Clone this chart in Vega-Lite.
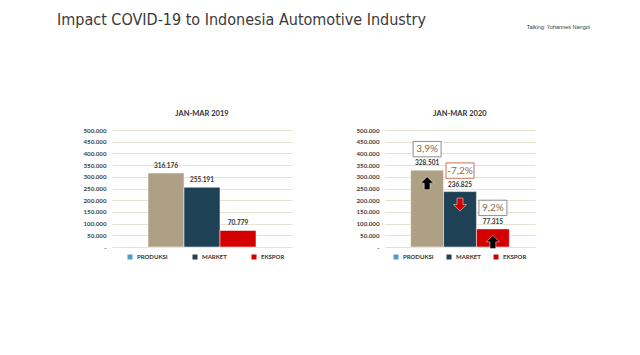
{
  "$schema": "https://vega.github.io/schema/vega-lite/v6.json",
  "background": "white",
  "padding": {"left": 57, "top": 12, "right": 5, "bottom": 5},
  "title": {
    "text": "Impact COVID-19 to Indonesia Automotive Industry",
    "anchor": "start",
    "frame": "group",
    "font": "DejaVu Sans Condensed, Liberation Sans",
    "fontSize": 16,
    "fontWeight": "normal",
    "color": "#3a3a3a",
    "dx": -55,
    "offset": -3
  },
  "data": {
    "values": [
      {"period": "JAN-MAR 2019", "cat": "PRODUKSI", "value": 316176},
      {"period": "JAN-MAR 2019", "cat": "MARKET", "value": 255191},
      {"period": "JAN-MAR 2019", "cat": "EKSPOR", "value": 70779},
      {"period": "JAN-MAR 2020", "cat": "PRODUKSI", "value": 328501, "pct": 3.9},
      {"period": "JAN-MAR 2020", "cat": "MARKET", "value": 236825, "pct": -7.2},
      {"period": "JAN-MAR 2020", "cat": "EKSPOR", "value": 77315, "pct": 9.2}
    ]
  },
  "vconcat": [
    {
      "title": {
        "text": "Talking: Yohannes Nangoi",
        "anchor": "end",
        "frame": "bounds",
        "font": "Liberation Sans",
        "fontSize": 5.5,
        "fontWeight": "normal",
        "color": "#2f3a38",
        "dx": 55,
        "dy": -35,
        "offset": 44
      },
      "hconcat": [
        {
          "width": 180,
          "height": 117,
          "title": {"text": "JAN-MAR 2019"},
          "transform": [
            {"filter": "datum.period == 'JAN-MAR 2019'"},
            {"calculate": "replace(format(datum.value, ','), ',', '.')", "as": "label"}
          ],
          "encoding": {
            "x": {"field": "cat", "type": "nominal", "sort": ["PRODUKSI", "MARKET", "EKSPOR"], "axis": null,
                  "scale": {"paddingInner": 0, "paddingOuter": 1.3125}},
            "y": {"field": "value", "type": "quantitative",
                  "scale": {"domain": [0, 500000], "nice": false},
                  "axis": {"values": [0, 50000, 100000, 150000, 200000, 250000, 300000, 350000, 400000, 450000, 500000],
                           "labelExpr": "datum.value == 0 ? '-' : replace(format(datum.value, ','), ',', '.')",
                           "title": null}}
          },
          "layer": [
            {"mark": {"type": "point", "shape": "square", "filled": true, "opacity": 0},
             "encoding": {"color": {"field": "cat", "type": "nominal",
               "scale": {"domain": ["PRODUKSI", "MARKET", "EKSPOR"], "range": ["#4e9fc9", "#1e4155", "#d40000"]},
               "legend": {"title": null, "orient": "none", "direction": "horizontal", "legendX": 15, "legendY": 124, "columnPadding": 24,
                          "encode": {"symbols": {"update": {"opacity": {"value": 1}}}}}}}},
            {"mark": {"type": "bar", "stroke": "#ffffff", "strokeWidth": 0.5},
             "encoding": {"fill": {"field": "cat", "type": "nominal",
               "scale": {"domain": ["PRODUKSI", "MARKET", "EKSPOR"], "range": ["#ada084", "#1e4155", "#d40000"]},
               "legend": null}}},
            {"mark": {"type": "text", "yOffset": -7, "baseline": "middle", "font": "Lato", "fontWeight": "bold", "fontSize": 6.5, "color": "#333333"},
             "encoding": {"text": {"field": "label"}}}
          ]
        },
        {
          "width": 150,
          "height": 117,
          "title": {"text": "JAN-MAR 2020"},
          "transform": [
            {"filter": "datum.period == 'JAN-MAR 2020'"},
            {"calculate": "replace(format(datum.value, ','), ',', '.')", "as": "label"},
            {"calculate": "(datum.pct < 0 ? '-' : '') + replace(format(abs(datum.pct), '.1f'), '.', ',') + '%'", "as": "pctlabel"}
          ],
          "encoding": {
            "x": {"field": "cat", "type": "nominal", "sort": ["PRODUKSI", "MARKET", "EKSPOR"], "axis": null,
                  "scale": {"paddingInner": 0, "paddingOuter": 0.78}},
            "y": {"field": "value", "type": "quantitative",
                  "scale": {"domain": [0, 500000], "nice": false},
                  "axis": {"values": [0, 50000, 100000, 150000, 200000, 250000, 300000, 350000, 400000, 450000, 500000],
                           "labelExpr": "datum.value == 0 ? '-' : replace(format(datum.value, ','), ',', '.')",
                           "title": null}}
          },
          "layer": [
            {"mark": {"type": "point", "shape": "square", "filled": true, "opacity": 0},
             "encoding": {"color": {"field": "cat", "type": "nominal",
               "scale": {"domain": ["PRODUKSI", "MARKET", "EKSPOR"], "range": ["#4e9fc9", "#1e4155", "#d40000"]},
               "legend": {"title": null, "orient": "none", "direction": "horizontal", "legendX": 8, "legendY": 124, "columnPadding": 12,
                          "encode": {"symbols": {"update": {"opacity": {"value": 1}}}}}}}},
            {"mark": {"type": "bar", "stroke": "#ffffff", "strokeWidth": 0.5},
             "encoding": {"fill": {"field": "cat", "type": "nominal",
               "scale": {"domain": ["PRODUKSI", "MARKET", "EKSPOR"], "range": ["#ada084", "#1e4155", "#d40000"]},
               "legend": null}}},
            {"mark": {"type": "text", "yOffset": -7, "baseline": "middle", "font": "Lato", "fontWeight": "bold", "fontSize": 6.5, "color": "#333333"},
             "encoding": {"text": {"field": "label"}}},
            {"mark": {"type": "point", "filled": true, "size": 169, "yOffset": 13, "stroke": "#ffffff", "strokeWidth": 0.5, "opacity": 1},
             "encoding": {
               "shape": {"condition": {"test": "datum.pct < 0", "value": "M0,1L1,0L0.45,0L0.45,-1L-0.45,-1L-0.45,0L-1,0Z"},
                         "value": "M0,-1L1,0L0.45,0L0.45,1L-0.45,1L-0.45,0L-1,0Z"},
               "fill": {"condition": {"test": "datum.pct < 0", "value": "#d40000"}, "value": "#000000"}
             }},
            {"mark": {"type": "point", "filled": true, "size": 784, "yOffset": -21, "fill": "#ffffff", "strokeWidth": 1, "opacity": 1,
                      "shape": "M-1,-0.55L1,-0.55L1,0.55L-1,0.55Z"},
             "encoding": {
               "stroke": {"condition": {"test": "datum.pct < 0", "value": "#c8735a"}, "value": "#8c8c8c"}
             }},
            {"mark": {"type": "text", "yOffset": -21, "baseline": "middle", "font": "Lato", "fontSize": 10, "color": "#7f6e4e"},
             "encoding": {"text": {"field": "pctlabel"}}}
          ]
        }
      ],
      "spacing": 63,
      "resolve": {"scale": {"color": "independent", "fill": "independent", "x": "independent", "y": "independent"},
                  "legend": {"color": "independent"}}
    }
  ],
  "config": {
    "concat": {"spacing": 63},
    "view": {"stroke": null},
    "title": {"font": "Lato", "fontSize": 7.5, "fontWeight": "bold", "color": "#333333", "offset": 10},
    "axis": {"domain": false, "ticks": false, "grid": true, "gridColor": "#e6e1d3", "gridWidth": 1,
             "labelFont": "Lato", "labelFontWeight": "bold", "labelFontSize": 6.2, "labelColor": "#404040", "labelPadding": 6},
    "legend": {"symbolType": "square", "symbolSize": 25, "labelFont": "Lato", "labelFontWeight": "bold", "labelFontSize": 6,
               "labelColor": "#333333", "symbolStrokeWidth": 0}
  }
}
